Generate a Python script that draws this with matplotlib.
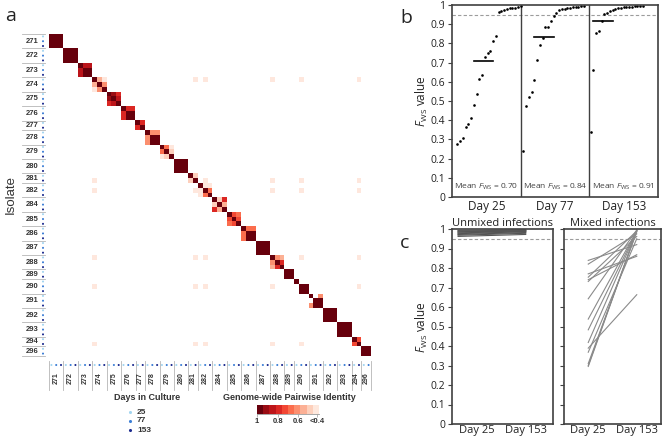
import numpy as np
import matplotlib.pyplot as plt
from matplotlib.colors import ListedColormap, BoundaryNorm

plt.rcParams['font.family'] = ['Open Sans', 'DejaVu Sans']
plt.rcParams['mathtext.fontset'] = 'custom'
plt.rcParams['mathtext.rm'] = 'Open Sans'
plt.rcParams['mathtext.it'] = 'Open Sans:italic'

# ---------------- panel a: pairwise identity between samples
isolates = ['271', '272', '273', '274', '275', '276', '277', '278', '279', '280',
            '281', '282', '284', '285', '286', '287', '288', '289', '290', '291',
            '292', '293', '294', '296']
isolate_days = [[25, 77, 153], [25, 77, 153], [25, 77, 153], [25, 77, 153],
                [25, 77, 153], [25, 77, 153], [25, 153], [25, 77, 153],
                [25, 77, 153], [25, 77, 153], [25, 153], [25, 77, 153],
                [25, 77, 153], [25, 77, 153], [25, 77, 153], [25, 77, 153],
                [25, 77, 153], [25, 153], [25, 77, 153], [25, 77, 153],
                [25, 77, 153], [25, 77, 153], [25, 153], [25, 77]]
# identity between samples of one isolate: (1,2), (1,3), (2,3)
within_identity = [[1.0, 1.0, 1.0], [1.0, 1.0, 1.0], [0.85, 0.85, 1.0],
                   [0.58, 0.45, 0.60], [0.90, 0.78, 0.85], [0.80, 0.80, 1.0],
                   [0.80], [0.62, 0.62, 1.0], [0.68, 0.42, 0.48],
                   [1.0, 1.0, 1.0], [0.48], [0.45, 0.40, 0.65],
                   [0.50, 0.80, 0.55], [0.75, 0.68, 0.75], [0.66, 0.66, 0.95],
                   [1.0, 1.0, 1.0], [0.60, 0.55, 0.82], [1.0],
                   [0.35, 0.35, 1.0], [0.38, 0.60, 1.0], [1.0, 1.0, 1.0],
                   [1.0, 1.0, 1.0], [0.75], [1.0]]
# samples (isolate index, sample index) that share a faint similarity
faint_samples = [(3, 0), (10, 1), (11, 1), (16, 0), (18, 1), (22, 1)]
faint_identity = 0.45
background_identity = 0.2

day_levels = [25, 77, 153]
day_colors = ['#a3d5f0', '#3d7fd6', '#1d2b8f']

# ---------------- panel b: FWS per sampling day
day_labels = ['Day 25', 'Day 77', 'Day 153']
fws_day25 = [0.278, 0.290, 0.305, 0.365, 0.380, 0.412, 0.477, 0.536, 0.617,
             0.638, 0.728, 0.748, 0.763, 0.815, 0.838, 0.962, 0.970, 0.975,
             0.980, 0.984, 0.985, 0.986, 0.988, 0.995]
fws_day77 = [0.238, 0.476, 0.520, 0.545, 0.608, 0.713, 0.792, 0.830, 0.883,
             0.888, 0.915, 0.943, 0.958, 0.975, 0.977, 0.980, 0.982, 0.985,
             0.987, 0.990, 0.992, 0.995, 0.997]
fws_day153 = [0.340, 0.662, 0.855, 0.865, 0.918, 0.952, 0.960, 0.968, 0.975,
              0.980, 0.984, 0.986, 0.988, 0.990, 0.991, 0.992, 0.993, 0.994,
              0.995, 0.997]
mean_labels = ['0.70', '0.84', '0.91']

# ---------------- panel c: paired day 25 -> day 153
unmixed_day25 = [0.962, 0.968, 0.972, 0.976, 0.980, 0.984, 0.986, 0.990, 0.993]
unmixed_day153 = [0.972, 0.978, 0.982, 0.986, 0.988, 0.990, 0.992, 0.994, 0.996]
mixed_day25 = [0.295, 0.300, 0.310, 0.368, 0.389, 0.418, 0.483, 0.538, 0.642,
               0.731, 0.740, 0.753, 0.770, 0.820, 0.839]
mixed_day153 = [0.990, 0.993, 0.985, 0.950, 0.663, 0.990, 0.990, 0.992, 0.995,
                0.962, 0.868, 0.990, 0.860, 0.975, 0.920]

W, H = 663, 437
fig = plt.figure(figsize=(W / 100, H / 100), dpi=100)


def px_axes(x0, y0, x1, y1):
    return fig.add_axes([x0 / W, 1 - y1 / H, (x1 - x0) / W, (y1 - y0) / H])


ov = fig.add_axes([0, 0, 1, 1])
ov.set_xlim(0, W)
ov.set_ylim(H, 0)
ov.axis('off')

# build the identity matrix
sizes = [len(d) for d in isolate_days]
N = sum(sizes)
starts = np.concatenate([[0], np.cumsum(sizes)[:-1]])
mat = np.full((N, N), background_identity)
for k, (s, n) in enumerate(zip(starts, sizes)):
    pairs = [(i, j) for i in range(n) for j in range(i + 1, n)]
    for (i, j), v in zip(pairs, within_identity[k]):
        mat[s + i, s + j] = v
        mat[s + j, s + i] = v
    for i in range(n):
        mat[s + i, s + i] = 1.0
for ka, ia in faint_samples:
    for kb, ib in faint_samples:
        if ka != kb:
            mat[starts[ka] + ia, starts[kb] + ib] = faint_identity

bounds = np.linspace(0.4, 1.0, 11)
bounds[-1] = 1.001
cmap = ListedColormap(plt.cm.Reds(np.linspace(0.08, 1.0, 10)))
cmap.set_under('white')
norm = BoundaryNorm(bounds, cmap.N)

X0, Y0, X1, Y1 = 49, 34, 371, 356
axa = px_axes(X0, Y0, X1, Y1)
axa.imshow(mat, cmap=cmap, norm=norm, interpolation='nearest', aspect='auto')
axa.axis('off')
cell = (X1 - X0) / N

sample_colors = [day_colors[day_levels.index(d)] for days in isolate_days for d in days]
lab_font = dict(family='Liberation Sans', fontweight='bold', color='#333333')

for k, (s, n) in enumerate(zip(starts, sizes)):
    yc = Y0 + (s + n / 2) * cell
    ov.text(32, yc, isolates[k], ha='center', va='center', fontsize=5.5, **lab_font)
    ov.plot([22, 45], [Y0 + s * cell] * 2, color='#b5b5b5', lw=0.6)
    xc = X0 + (s + n / 2) * cell
    ov.text(xc, 378, isolates[k], ha='center', va='center', rotation=90,
            fontsize=5, **lab_font)
    ov.plot([X0 + s * cell] * 2, [361, 390], color='#b5b5b5', lw=0.6)
ov.plot([22, 45], [Y1, Y1], color='#b5b5b5', lw=0.6)
ov.plot([X1, X1], [361, 390], color='#b5b5b5', lw=0.6)

centers = (np.arange(N) + 0.5) * cell
ov.scatter(np.full(N, 43), Y0 + centers, s=2.2, c=sample_colors, lw=0)
ov.scatter(X0 + centers, np.full(N, 365), s=2.2, c=sample_colors, lw=0)

ov.text(11, 195, 'Isolate', rotation=90, ha='center', va='center',
        fontsize=9.5, color='#333333', family='Liberation Sans')
ov.text(5, 16, 'a', fontsize=14, va='center', ha='left', color='#222222')
ov.text(400, 18, 'b', fontsize=14, va='center', ha='left', color='#222222')
ov.text(400, 243, 'c', fontsize=14, va='center', ha='left', color='#222222')

# legends under the heatmap
ov.text(147, 397, 'Days in Culture', ha='center', va='center', fontsize=6.5, **lab_font)
for i, (d, c) in enumerate(zip(day_levels, day_colors)):
    ov.scatter([130], [412 + 9 * i], s=5, color=c, lw=0)
    ov.text(137, 412 + 9 * i, str(d), ha='left', va='center', fontsize=6, **lab_font)
ov.text(289, 397, 'Genome-wide Pairwise Identity', ha='center', va='center',
        fontsize=6.5, **lab_font)

axcb = px_axes(257, 405, 319, 414)
axcb.pcolormesh(bounds, [0, 1], ((bounds[:-1] + bounds[1:]) / 2)[None, :],
                cmap=cmap, norm=norm)
axcb.set_xlim(1.0, 0.4)
axcb.set_yticks([])
for sp in ['top', 'left', 'right']:
    axcb.spines[sp].set_visible(False)
axcb.spines['bottom'].set_color('#9a9a9a')
axcb.spines['bottom'].set_linewidth(0.6)
axcb.set_xticks([1.0, 0.8, 0.6, 0.42])
axcb.set_xticklabels(['1', '0.8', '0.6', '<0.4'])
axcb.tick_params(axis='x', length=2, width=0.5, color='#9a9a9a', pad=1, labelsize=5.5)
for t in axcb.get_xticklabels():
    t.set_fontfamily('Liberation Sans')
    t.set_fontweight('bold')
    t.set_color('#333333')

frame_col = '#404040'


def style_fws(ax, labels=True, xsize=8.5, xpad=2.5):
    ax.set_ylim(0, 1)
    ax.set_yticks(np.arange(0, 1.01, 0.1))
    ax.set_yticklabels([f'{v:g}' for v in np.arange(0, 1.01, 0.1)] if labels else [])
    ax.tick_params(axis='y', length=3, width=0.8, color=frame_col, labelsize=7.5,
                   pad=2, labelcolor='#222222')
    ax.tick_params(axis='x', length=0, labelsize=xsize, pad=xpad, labelcolor='#222222')
    for sp in ax.spines.values():
        sp.set_color(frame_col)
        sp.set_linewidth(1.2)
    ax.axhline(0.95, color='#9c9c9c', lw=0.8, ls=(0, (3, 2)))


# ---------------- panel b
axb = px_axes(452, 5, 658, 197)
style_fws(axb)
axb.set_xlim(0, 3)
axb.set_xticks([0.5, 1.5, 2.5])
axb.set_xticklabels(day_labels)
for xv in [1, 2]:
    axb.axvline(xv, color=frame_col, lw=1)
x_start = [0.08, 0.04, 0.02]
x_step = 0.04
for k, vals in enumerate([fws_day25, fws_day77, fws_day153]):
    vals = np.sort(vals)
    xs = k + x_start[k] + np.arange(len(vals)) * x_step
    axb.plot(xs, vals, 'o', color='black', ms=1.9, mec='none')
    m = np.mean(vals)
    xc = k + x_start[k] + (np.searchsorted(vals, m) - 0.5) * x_step
    axb.plot([xc - 0.14, xc + 0.14], [m, m], color='black', lw=1.2)
    axb.text(k + 0.5, 0.05, r'Mean $F_{\rm WS}$ = ' + mean_labels[k], ha='center',
             va='center', fontsize=6, color='#404040')
ov.text(422, 101, r'$F_{\rm WS}$ value', rotation=90, ha='center', va='center',
        fontsize=8.5, color='#222222')

# ---------------- panel c
axc1 = px_axes(452, 229, 553, 424)
style_fws(axc1, xsize=8, xpad=1)
axc1.set_xlim(0, 1)
axc1.set_xticks([0.25, 0.73])
axc1.set_xticklabels(['Day 25', 'Day 153'])
axc1.set_title('Unmixed infections', fontsize=8, pad=2, color='#222222')
for a, b in zip(unmixed_day25, unmixed_day153):
    axc1.plot([0.06, 0.73], [a, b], color='#555555', lw=0.8)

axc2 = px_axes(564, 229, 661, 424)
style_fws(axc2, labels=False, xsize=8, xpad=1)
axc2.set_xlim(0, 1)
axc2.set_xticks([0.25, 0.75])
axc2.set_xticklabels(['Day 25', 'Day 153'])
axc2.set_title('Mixed infections', fontsize=8, pad=2, color='#222222')
for a, b in zip(mixed_day25, mixed_day153):
    axc2.plot([0.25, 0.75], [a, b], color='#8a8a8a', lw=0.8)
ov.text(422, 327, r'$F_{\rm WS}$ value', rotation=90, ha='center', va='center',
        fontsize=8.5, color='#222222')

fig.savefig('out.png', dpi=100)
